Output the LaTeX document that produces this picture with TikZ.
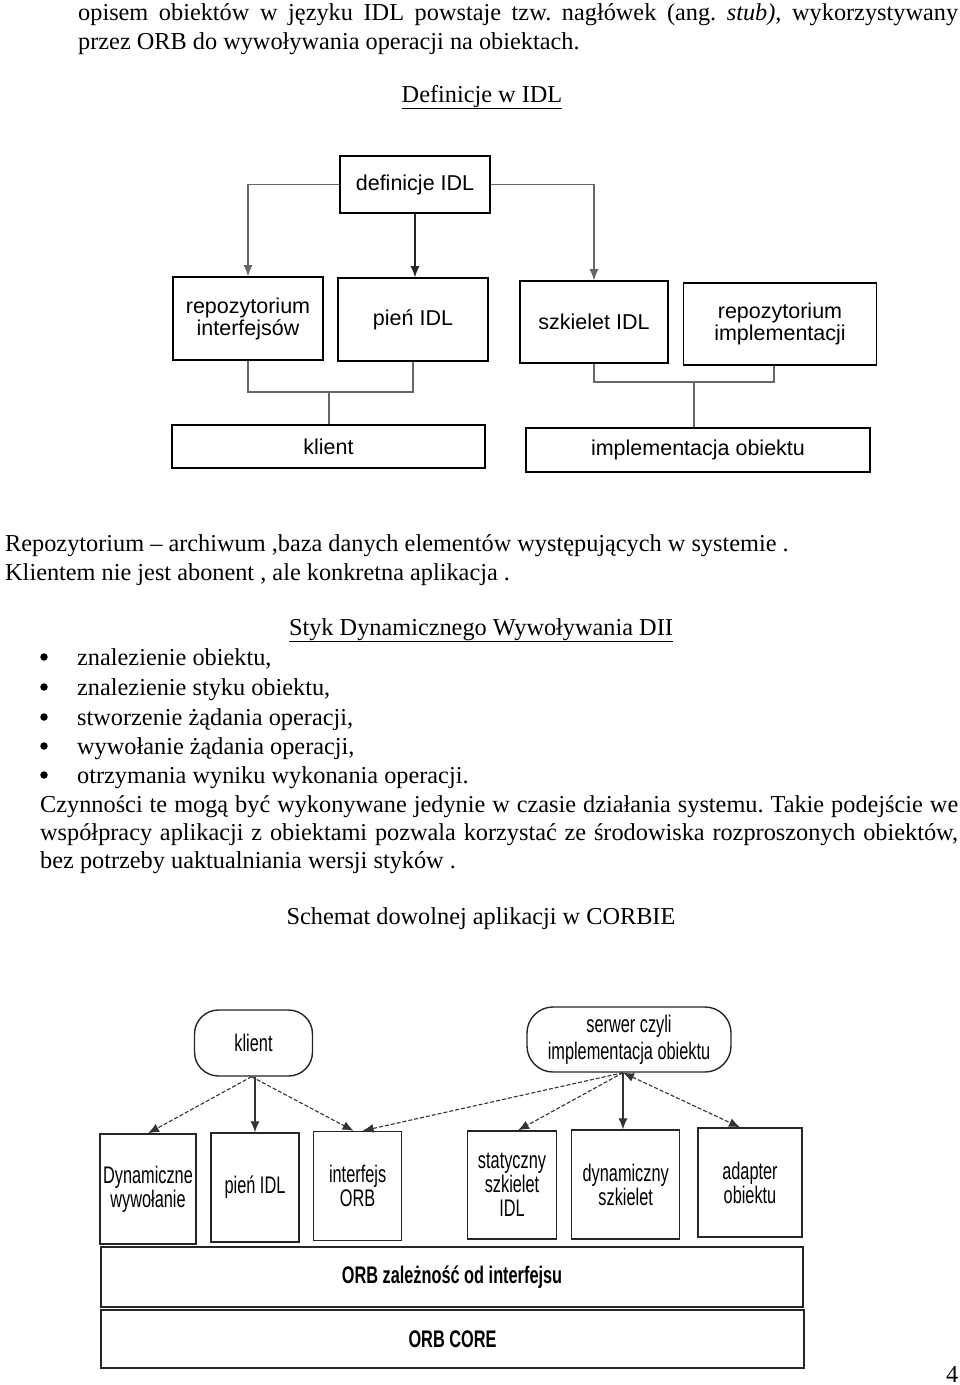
\documentclass[tikz,border=0pt]{standalone}
\usepackage{fontspec}
\setmainfont{Liberation Serif}
\newfontfamily\sansA{Liberation Sans}
\newfontfamily\sansN{Liberation Sans}[FakeStretch=0.68]
\usetikzlibrary{arrows.meta}
\frenchspacing
\begin{document}
\begin{tikzpicture}[x=1pt,y=-1pt,
  body/.style={anchor=base west, inner sep=0pt, font=\fontsize{24.3}{29}\selectfont},
  bodyc/.style={anchor=base, inner sep=0pt, font=\fontsize{24.3}{29}\selectfont},
  dot/.style={circle, fill=black, inner sep=0pt, minimum size=7.5pt},
  boxA/.style={draw, line width=1.6pt, inner sep=0pt, align=center,
    font=\sansA\fontsize{21.5}{22}\selectfont},
  boxB/.style={draw=black!85, line width=1.4pt, inner sep=0pt, align=center,
    font=\sansN\fontsize{24}{24}\selectfont},
  conn/.style={draw=black!60, line width=1.1pt},
  arr/.style={conn, -{Latex[length=11pt,width=9pt]}},
  arrB/.style={draw=black!80, line width=1.1pt, -{Latex[length=11pt,width=9pt]}},
  dsh/.style={arrB, dash pattern=on 4pt off 2pt}
]
\useasboundingbox (0,0) rectangle (960,1385);
\fill[white] (0,0) rectangle (960,1385);

% ---------- text ----------
\node[body] (t1) at (78,20) {\makebox[880pt][s]{opisem obiektów w języku IDL powstaje tzw. nagłówek (ang. \textit{stub)}, wykorzystywany}};
\node[body] (t2) at (78,49) {przez ORB do wywoływania operacji na obiektach.};
\node[bodyc] (t3) at (482,102) {\underline{Definicje w IDL}};
\node[body] (t4) at (5,551) {Repozytorium – archiwum ,baza danych elementów występujących w systemie .};
\node[body] (t5) at (5,580) {Klientem nie jest abonent , ale konkretna aplikacja .};
\node[bodyc] (t6) at (481,635) {\underline{Styk Dynamicznego Wywoływania DII}};
\node[dot] (b1) at (44,657) {};
\node[dot] (b2) at (44,687) {};
\node[dot] (b3) at (44,717) {};
\node[dot] (b4) at (44,746) {};
\node[dot] (b5) at (44,775) {};
\node[body] (l1) at (77,665) {znalezienie obiektu,};
\node[body] (l2) at (77,695) {znalezienie styku obiektu,};
\node[body] (l3) at (77,725) {stworzenie żądania operacji,};
\node[body] (l4) at (77,754) {wywołanie żądania operacji,};
\node[body] (l5) at (77,783) {otrzymania wyniku wykonania operacji.};
\node[body] (t7) at (40,812) {\makebox[918pt][s]{Czynności te mogą być wykonywane jedynie w czasie działania systemu. Takie podejście we}};
\node[body] (t8) at (40,840) {\makebox[918pt][s]{współpracy aplikacji z obiektami pozwala korzystać ze środowiska rozproszonych obiektów,}};
\node[body] (t9) at (40,868) {bez potrzeby uaktualniania wersji styków .};
\node[bodyc] (t10) at (481,924) {Schemat dowolnej aplikacji w CORBIE};
\node[body] (t11) at (946,1382) {4};

% ---------- diagram 1 ----------
\node[boxA, minimum width=150pt, minimum height=57pt] (defs) at (415,184.5) {definicje IDL};
\node[boxA, minimum width=150pt, minimum height=83pt] (repint) at (248,318.5) {repozytorium\\interfejsów};
\node[boxA, minimum width=150pt, minimum height=83pt] (pien1) at (413,319.5) {pień IDL};
\node[boxA, minimum width=148pt, minimum height=82pt] (szk) at (594,322) {szkielet IDL};
\node[boxA, minimum width=193pt, minimum height=82pt] (repimpl) at (780,324) {repozytorium\\implementacji};
\node[boxA, minimum width=313pt, minimum height=43pt] (klient1) at (328.5,446.5) {klient};
\node[boxA, minimum width=344pt, minimum height=44pt] (impl) at (698,450) {implementacja obiektu};

\draw[arr] (defs.west) -| (repint.north);
\draw[arr, draw=black!85] (defs.south) -- (defs.south |- pien1.north);
\draw[arr] (defs.east) -| (szk.north);

\coordinate (jL) at (329,392);
\coordinate (jR) at (694,382);
\draw[conn] (repint.south) |- (jL) -| (pien1.south);
\draw[conn] (jL) -- (jL |- klient1.north);
\draw[conn] (szk.south) |- (jR) -| ([xshift=-6pt]repimpl.south);
\draw[conn] (jR) -- (jR |- impl.north);

% ---------- diagram 2 ----------
\node[boxB, rounded corners=24pt, minimum width=118pt, minimum height=66pt] (klient2) at (253.5,1043) {klient};
\node[boxB, rounded corners=26pt, minimum width=204pt, minimum height=65pt] (serwer) at (629,1039.5) {serwer czyli\\[3pt]implementacja obiektu};
\node[boxB, minimum width=96pt, minimum height=110pt] (dyn) at (148,1189) {Dynamiczne\\wywołanie};
\node[boxB, minimum width=88pt, minimum height=109pt] (pien2) at (255,1187.5) {pień IDL};
\node[boxB, minimum width=88pt, minimum height=109pt] (iorb) at (357.6,1186) {interfejs\\ORB};
\node[boxB, minimum width=89pt, minimum height=108pt] (stat) at (512,1185) {statyczny\\szkielet\\IDL};
\node[boxB, minimum width=108pt, minimum height=109pt] (dsk) at (625.7,1184.5) {dynamiczny\\szkielet};
\node[boxB, minimum width=104pt, minimum height=109pt] (adap) at (750,1182.5) {adapter\\obiektu};
\node[boxB, minimum width=702pt, minimum height=60pt, font=\sansN\bfseries\fontsize{24}{24}\selectfont] (orbz) at (452,1277) {ORB zależność od interfejsu};
\node[boxB, minimum width=703pt, minimum height=58pt, font=\sansN\bfseries\fontsize{24}{24}\selectfont] (core) at (452.5,1339) {ORB CORE};

\coordinate (kb) at ([xshift=-2pt]klient2.south);
\coordinate (sb) at ([xshift=-6pt]serwer.south);
\draw[dsh] (kb) -- (dyn.north);
\draw[arrB] (klient2.south -| pien2.north) -- (pien2.north);
\draw[dsh] (kb) -- ([xshift=-4pt]iorb.north);
\draw[dsh] (sb) -- ([xshift=5pt]iorb.north);
\draw[dsh] (sb) -- ([xshift=6pt]stat.north);
\draw[arrB] (sb) -- (sb |- dsk.north);
\draw[dsh, {Latex[length=11pt,width=9pt]}-{Latex[length=11pt,width=9pt]}] (sb) -- ([xshift=-10pt]adap.north);
\end{tikzpicture}
\end{document}
